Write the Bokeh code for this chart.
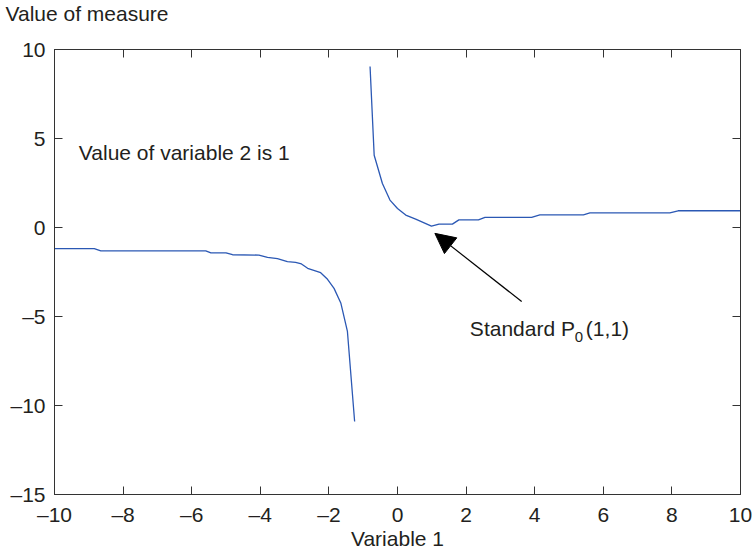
from bokeh.plotting import figure
from bokeh.models import (Range1d, LinearAxis, FixedTicker, Label, Arrow,
                          NormalHead, CustomJSTickFormatter)
from bokeh.embed import file_html
from bokeh.resources import INLINE

# ---- data ----
left_x = [-10.0, -8.84, -8.65, -5.59, -5.44, -5.0, -4.81, -4.04, -3.79, -3.50,
          -3.21, -2.97, -2.80, -2.62, -2.24, -2.04, -1.85, -1.65, -1.46, -1.25]
left_y = [-1.19, -1.19, -1.31, -1.31, -1.42, -1.42, -1.53, -1.55, -1.68, -1.75,
          -1.92, -1.96, -2.05, -2.29, -2.54, -2.91, -3.42, -4.26, -5.84, -10.9]

right_x = [-0.80, -0.68, -0.44, -0.22, 0.0, 0.24, 0.53, 0.99, 1.21, 1.60,
           1.79, 2.36, 2.55, 3.91, 4.15, 5.42, 5.61, 7.94, 8.18, 10.0]
right_y = [9.05, 4.06, 2.47, 1.54, 1.07, 0.70, 0.47, 0.08, 0.19, 0.19,
           0.43, 0.43, 0.57, 0.57, 0.71, 0.71, 0.82, 0.82, 0.94, 0.94]

x_ticks = [-10, -8, -6, -4, -2, 0, 2, 4, 6, 8, 10]
x_tick_labels = ["\u201310", "\u20138", "\u20136", "\u20134", "\u20132", "0", "2", "4", "6", "8", "10"]
y_ticks = [-15, -10, -5, 0, 5, 10]
y_tick_labels = ["\u201315", "\u201310", "\u20135", "0", "5", "10"]

x_label = "Variable 1"
y_label = "Value of measure"
note_text = "Value of variable 2 is 1"
note_pos = (-9.29, 4.19)
std_text = ("Standard P", "0", "(1,1)")
std_pos = (2.11, -5.69)
arrow_from = (3.62, -4.16)
arrow_to = (1.09, -0.33)

FONT = "Liberation Sans"
TXT = "#231f20"
AX = "#333333"
LINE = "#2b58b4"

p = figure(width=752, height=552, output_backend="svg", toolbar_location=None,
           x_range=Range1d(-10, 10), y_range=Range1d(-15, 10),
           min_border_left=54, min_border_right=12, min_border_top=49,
           min_border_bottom=57)
p.grid.visible = False
p.outline_line_color = AX
p.outline_line_width = 1
p.background_fill_color = "white"
p.border_fill_color = "white"

# second (blank) line makes the title box fill the top margin so the text sits high
p.title.text = y_label + "\n "
p.title.text_font = FONT
p.title.text_font_size = "21px"
p.title.text_font_style = "normal"
p.title.text_color = TXT
p.title.text_line_height = 1.0
p.title.align = "left"
p.title.vertical_align = "top"
p.title.offset = -49
p.title.standoff = 0


def style(ax, ticks, labels=None):
    ax.ticker = FixedTicker(ticks=ticks, minor_ticks=[])
    ax.major_tick_in = 8
    ax.major_tick_out = 0
    ax.minor_tick_in = 0
    ax.minor_tick_out = 0
    ax.axis_line_color = AX
    ax.major_tick_line_color = AX
    ax.major_label_text_font = FONT
    ax.major_label_text_font_size = "21px"
    ax.major_label_text_color = TXT
    ax.major_label_text_line_height = 1.0
    ax.axis_label_text_font = FONT
    ax.axis_label_text_font_size = "21px"
    ax.axis_label_text_font_style = "normal"
    ax.axis_label_text_color = TXT
    ax.axis_label_text_line_height = 1.0
    if labels is not None:
        ax.major_label_overrides = {float(t): l for t, l in zip(ticks, labels)}


xa = p.xaxis[0]
ya = p.yaxis[0]
style(xa, x_ticks, x_tick_labels)
style(ya, y_ticks, y_tick_labels)
xa.major_label_standoff = 8
xa.axis_label = x_label
xa.axis_label_standoff = -2
ya.major_label_standoff = 9

for side, ticks in (("above", x_ticks), ("right", y_ticks)):
    ax = LinearAxis()
    style(ax, ticks)
    ax.formatter = CustomJSTickFormatter(code="return ''")
    ax.major_label_standoff = 0
    ax.major_label_text_font_size = "0px"
    p.add_layout(ax, side)

p.line(left_x, left_y, line_color=LINE, line_width=1.3)
p.line(right_x, right_y, line_color=LINE, line_width=1.3)

p.add_layout(Label(x=note_pos[0], y=note_pos[1], text=note_text,
                   text_font=FONT, text_font_size="21px", text_color=TXT,
                   text_baseline="alphabetic", text_align="left"))

p.add_layout(Label(x=std_pos[0], y=std_pos[1], text=std_text[0],
                   text_font=FONT, text_font_size="21px", text_color=TXT,
                   text_baseline="alphabetic", text_align="left"))
p.add_layout(Label(x=std_pos[0], y=std_pos[1], x_offset=105, y_offset=-8,
                   text=std_text[1],
                   text_font=FONT, text_font_size="15px", text_color=TXT,
                   text_baseline="alphabetic", text_align="left"))
p.add_layout(Label(x=std_pos[0], y=std_pos[1], x_offset=116, text=std_text[2],
                   text_font=FONT, text_font_size="21px", text_color=TXT,
                   text_baseline="alphabetic", text_align="left"))

p.add_layout(Arrow(end=NormalHead(size=20, fill_color="black", line_color="black"),
                   x_start=arrow_from[0], y_start=arrow_from[1],
                   x_end=arrow_to[0], y_end=arrow_to[1],
                   line_color="black", line_width=1.2))

open("out.html", "w").write(file_html(p, INLINE))
